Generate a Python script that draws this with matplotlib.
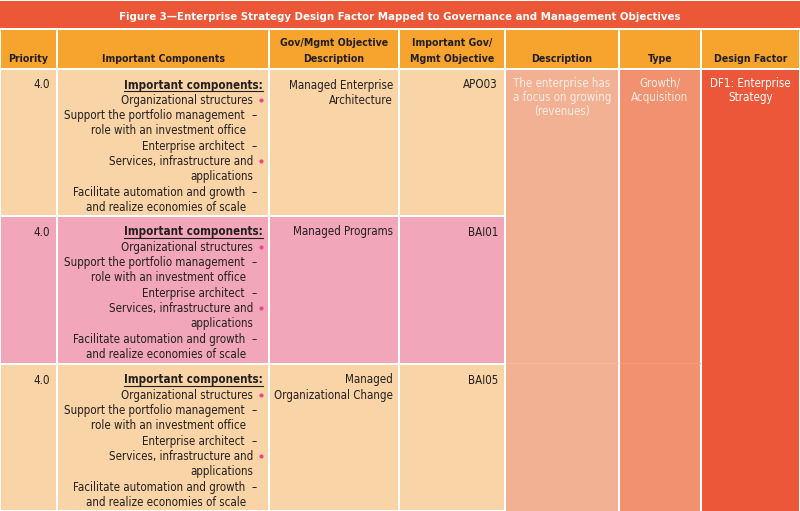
import matplotlib
matplotlib.use("Agg")
import matplotlib.pyplot as plt
from matplotlib import font_manager
from matplotlib.patches import Rectangle

# text content of the table (the reference is a mirrored scan, so columns run right to left)
title = "Figure 3\u2014Enterprise Strategy Design Factor Mapped to Governance and Management Objectives"
headers = ["Priority", "Important Components", "Gov/Mgmt Objective\nDescription",
           "Important Gov/\nMgmt Objective", "Description", "Type", "Design Factor"]
design_factor = "DF1: Enterprise\nStrategy"
factor_type = "Growth/\nAcquisition"
factor_desc = "The enterprise has\na focus on growing\n(revenues)"
objectives = ["APO03", "BAI01", "BAI05"]
objective_desc = ["Managed Enterprise\nArchitecture", "Managed Programs", "Managed\nOrganizational Change"]
priorities = ["4.0", "4.0", "4.0"]
component_kinds = ["head", "bullet", "dash", "cont", "dash", "bullet", "bcont", "dash", "cont"]
component_text = ["Important components:", "Organizational structures",
                  "Support the portfolio management", "role with an investment office",
                  "Enterprise architect", "Services, infrastructure and", "applications",
                  "Facilitate automation and growth", "and realize economies of scale"]

# layout in pixels
W, H = 800, 511
col_x = [0, 57, 269, 399, 505, 619, 701, 800]
row_y = [70, 216, 364, 511]
title_bot = 28
head_top, head_bot = 30, 68

c_title = "#EB5737"
c_head = "#F6A42E"
c_peach = "#F9D4A6"
c_pink = "#F2A6BA"
c_desc = "#F3B194"
c_type = "#F2916F"
c_df = "#EC5739"
c_text = "#231F20"
c_dot = "#E9468C"

# pick a narrow face if one is there, the scan uses a condensed grotesque
have = {(f.name, f.stretch) for f in font_manager.fontManager.ttflist}
stretch = "normal"
if any(n == "Liberation Sans Narrow" for n, s in have):
    FONT = ["Liberation Sans Narrow", "DejaVu Sans"]
    fs, fs_head, fs_title = 9.5, 9.0, 9.6
elif ("DejaVu Sans", "condensed") in have or ("DejaVu Sans", 500) in have:
    FONT = ["DejaVu Sans", "Liberation Sans"]
    stretch = "condensed"
    fs, fs_head, fs_title = 8.3, 7.6, 8.2
else:
    FONT = ["Liberation Sans", "DejaVu Sans"]
    fs, fs_head, fs_title = 8.4, 7.8, 8.4
plt.rcParams["font.family"] = FONT
plt.rcParams["font.stretch"] = stretch

fig = plt.figure(figsize=(W / 100, H / 100), dpi=100)
ax = fig.add_axes([0, 0, 1, 1])
ax.set_xlim(0, W)
ax.set_ylim(H, 0)
ax.axis("off")


def cell(x0, x1, y0, y1, color):
    ax.add_patch(Rectangle((x0 + 1, y0), x1 - x0 - 2, y1 - y0, facecolor=color, edgecolor="none"))


def lines(x, y, txt, step=15.2, **kw):
    for i, ln in enumerate(txt.split("\n")):
        ax.text(x, y + i * step, ln, va="center", **kw)


# title bar
ax.add_patch(Rectangle((0, 1), W, title_bot - 1, facecolor=c_title, edgecolor="none"))
ax.text(W / 2, 17, title, color="white", fontsize=fs_title, fontweight="bold", ha="center", va="center")

# header row
for i, h in enumerate(headers):
    cell(col_x[i], col_x[i + 1], head_top, head_bot, c_head)
    parts = h.split("\n")
    cx = (col_x[i] + col_x[i + 1]) / 2
    for j, p in enumerate(parts):
        ax.text(cx, 59 - (len(parts) - 1 - j) * 16, p, color=c_text, fontsize=fs_head,
                fontweight="bold", ha="center", va="center")

# merged columns on the right
cell(col_x[4], col_x[5], row_y[0], H, c_desc)
cell(col_x[5], col_x[6], row_y[0], H, c_type)
cell(col_x[6], col_x[7], row_y[0], H, c_df)
ax.plot([col_x[4] + 1, col_x[5] - 1], [row_y[2] - 1, row_y[2] - 1], color="#F5BCA2", lw=0.6)
ax.plot([col_x[5] + 1, col_x[6] - 1], [row_y[2] - 1, row_y[2] - 1], color="#F39C7C", lw=0.6)
lines((col_x[4] + col_x[5]) / 2, 83, factor_desc, step=14.5, color="#FDEDE3", fontsize=fs, ha="center")
lines((col_x[5] + col_x[6]) / 2, 83, factor_type, step=14.5, color="#FDEDE3", fontsize=fs, ha="center")
lines((col_x[6] + col_x[7]) / 2, 83, design_factor, step=14.5, color="white", fontsize=fs, ha="center")

row_colors = [c_peach, c_pink, c_peach]
offsets = {"head": 263, "bullet": 253, "dash": 245, "cont": 246, "bcont": 253}

fig.canvas.draw()
renderer = fig.canvas.get_renderer()

for r in range(3):
    top = row_y[r] + (1 if r else 0)
    bot = row_y[r + 1] - 1
    for c in range(4):
        cell(col_x[c], col_x[c + 1], top, bot, row_colors[r])
    y0 = top + 15
    ax.text(50, y0, priorities[r], color=c_text, fontsize=fs, ha="right", va="center")
    ax.text(498, y0, objectives[r], color=c_text, fontsize=fs, ha="right", va="center")
    lines(393, y0, objective_desc[r], step=15.5, color=c_text, fontsize=fs, ha="right")
    for k, (kind, txt) in enumerate(zip(component_kinds, component_text)):
        y = y0 + k * 15.3
        if kind == "head":
            t = ax.text(offsets[kind], y, txt, color=c_text, fontsize=fs, fontweight="bold",
                        ha="right", va="center")
            bb = t.get_window_extent(renderer)
            ax.plot([offsets[kind] - bb.width, offsets[kind]], [y + 6, y + 6], color=c_text, lw=0.8)
        else:
            ax.text(offsets[kind], y, txt, color=c_text, fontsize=fs, ha="right", va="center")
        if kind == "bullet":
            ax.plot(261, y, "o", color=c_dot, markersize=3, markeredgewidth=0)
        if kind == "dash":
            ax.text(257, y, "\u2013", color=c_text, fontsize=fs, ha="right", va="center")

fig.savefig("out.png", dpi=100, facecolor="white")
